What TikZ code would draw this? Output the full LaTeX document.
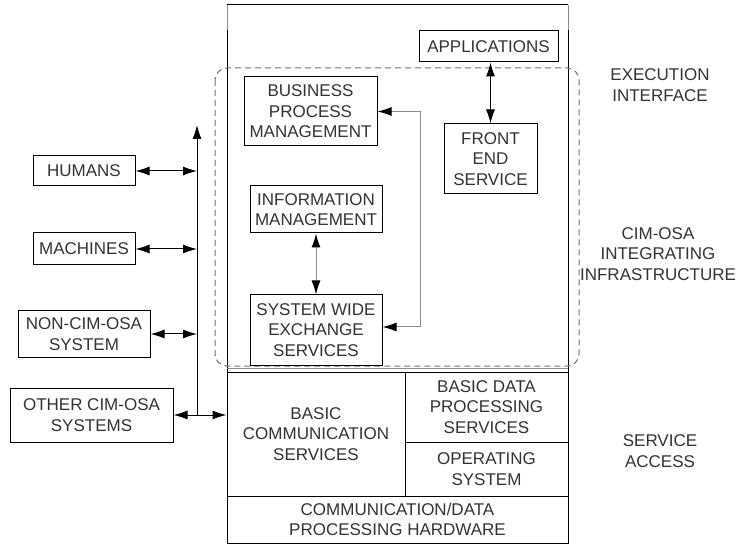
\documentclass[tikz,border=0pt]{standalone}
\usepackage{fontspec}
\setmainfont{Liberation Sans}
\usetikzlibrary{positioning,arrows.meta}
\begin{document}
\begin{tikzpicture}[x=1pt, y=-1pt, line width=1pt,
		box/.style={draw=black, align=center, inner sep=0pt, text=black!80, font=\fontsize{17}{20.5}\selectfont},
		side/.style={align=center, text=black!80, font=\fontsize{17}{20.5}\selectfont},
		dbl/.style={{Latex[length=14pt, width=9pt, color=black]}-{Latex[length=14pt, width=9pt, color=black]}},
		up/.style={-{Latex[length=14pt, width=9pt, color=black]}}]
			\useasboundingbox (0,0) rectangle (747,545);
			% outer frame
			\draw [black!45] (227,30) -- (227,5);
			\draw [black!45] (568,30) -- (568,5);
			\draw [black] (227,5) -- (568,5);
			\draw [black] (227,30) -- (227,372);
			\draw [black] (568,30) -- (568,372);
			\draw [black!45] (227,368) -- (568,368);
			\draw [rounded corners=12pt, dashed, dash pattern=on 6pt off 4pt, black!55] (215,68) rectangle (579,366);
			
			\node[box, minimum width=139, minimum height=31] (app) at (488.5,46.5) {APPLICATIONS};
			\node[box, minimum width=93, minimum height=70] (fes) at (490.5,159) {FRONT\\END\\SERVICE};
			\node[box, minimum width=133, minimum height=69] (bpm) at (310.5,111.5) {BUSINESS\\PROCESS\\MANAGEMENT};
			\node[box, minimum width=132, minimum height=47] (im) at (316,209.5) {INFORMATION\\MANAGEMENT};
			\node[box, minimum width=132, minimum height=70] (swes) at (316,330) {SYSTEM WIDE\\EXCHANGE\\SERVICES};
			
			\draw [dbl] (fes.north) -- (fes.north |- app.south);
			\draw [dbl][black!45] (im) -- (swes);
			\draw [dbl][black!45] (bpm.east) -- ++(43,0) |- ([yshift=3]swes.east);
			
			% service access
			\node[box, minimum width=178, minimum height=124] (bcs) at (316,434) {BASIC\\COMMUNICATION\\SERVICES};
			\node[box, minimum width=163, minimum height=70] (bdps) at (486.5,407) {BASIC DATA\\PROCESSING\\SERVICES};
			\node[box, minimum width=163, minimum height=54] (os) at (486.5,469) {OPERATING\\SYSTEM};
			\node[box, minimum width=341, minimum height=47] (hw) at (397.5,519.5) {COMMUNICATION/DATA\\PROCESSING HARDWARE};
			
			% external partners
			\node[box, minimum width=102, minimum height=30] (hum) at (84,171) {HUMANS};
			\node[box, minimum width=102, minimum height=32] (mach) at (84,249) {MACHINES};
			\node[box, minimum width=132, minimum height=46] (ncim) at (84,334) {NON-CIM-OSA\\SYSTEM};
			\node[box, minimum width=163, minimum height=54] (ocim) at (91.5,415) {OTHER CIM-OSA\\SYSTEMS};
			
			\coordinate (busT) at (197,125);
			\coordinate (busB) at (197,415);
			\draw [up] (busB) -- (busT);
			\draw [dbl] (hum.east) -- (hum.east -| busT);
			\draw [dbl] (mach.east) -- (mach.east -| busT);
			\draw [dbl] (ncim.east) -- (ncim.east -| busT);
			\draw [dbl] (ocim.east) -- (ocim.east -| bcs.west);
			
			\node[side] (exec) at (660,85) {EXECUTION\\INTERFACE};
			\node[side] (infra) at (658,254) {CIM-OSA\\INTEGRATING\\INFRASTRUCTURE};
			\node[side] (acc) at (660,451) {SERVICE\\ACCESS};
		\end{tikzpicture}
\end{document}
